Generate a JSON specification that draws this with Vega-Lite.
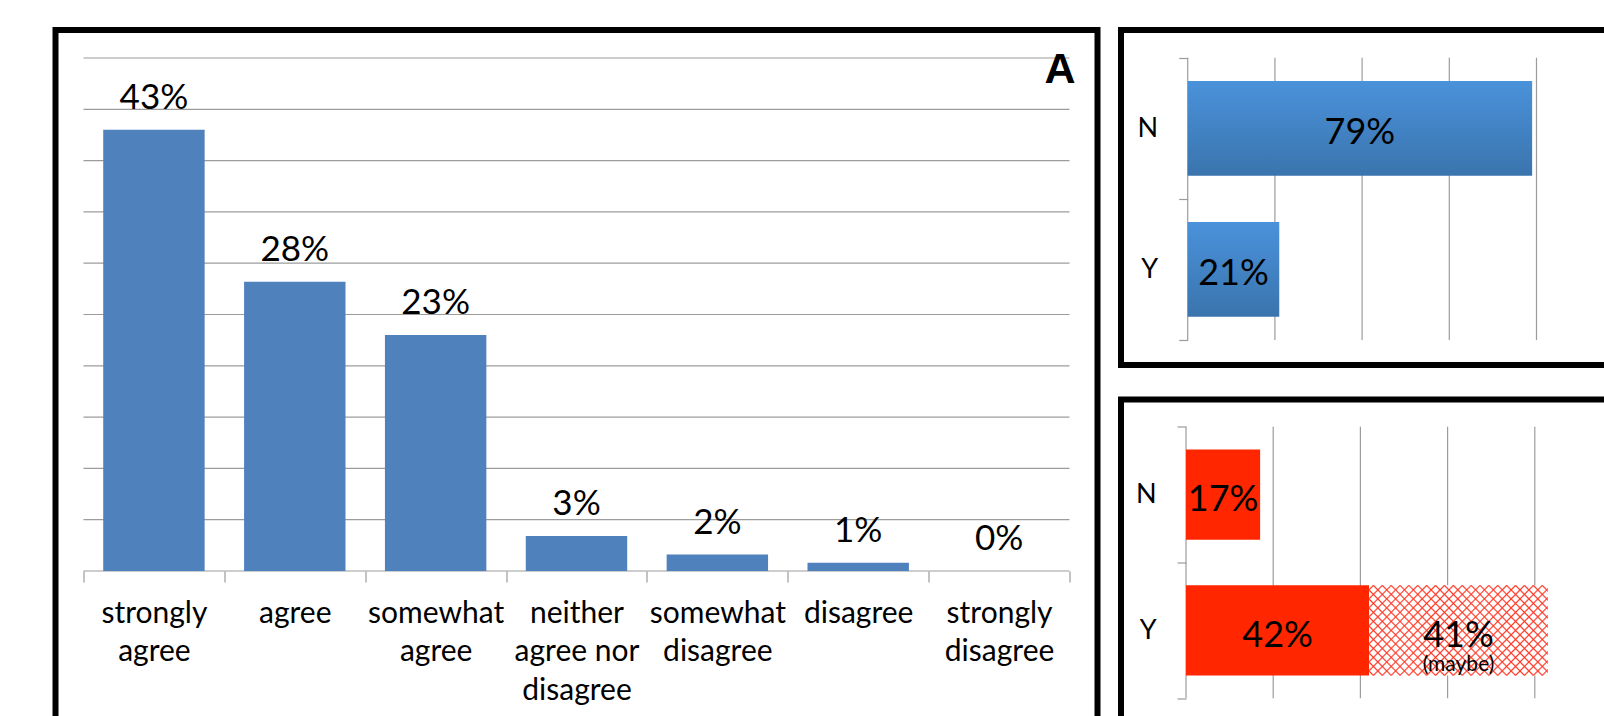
{
  "$schema": "https://vega.github.io/schema/vega-lite/v6.json",
  "background": "white",
  "padding": {"left": 52.5, "top": 27, "right": 0, "bottom": 0},
  "config": {
    "view": {"stroke": "black", "strokeWidth": 6},
    "font": "Lato",
    "text": {"font": "Lato", "color": "black"},
    "axis": {"labelFont": "Lato", "labelColor": "black"}
  },
  "spacing": 17.5,
  "hconcat": [
    {
      "width": 1042,
      "height": 690,
      "data": {"values": [
        {"response": "strongly agree", "value": 0.43},
        {"response": "agree", "value": 0.282},
        {"response": "somewhat agree", "value": 0.23},
        {"response": "neither agree nor disagree", "value": 0.034},
        {"response": "somewhat disagree", "value": 0.016},
        {"response": "disagree", "value": 0.008},
        {"response": "strongly disagree", "value": 0}
      ]},
      "resolve": {"scale": {"x": "independent"}},
      "layer": [
        {
          "data": {"values": [{"g": 0}, {"g": 0.05}, {"g": 0.1}, {"g": 0.15}, {"g": 0.2}, {"g": 0.25}, {"g": 0.3}, {"g": 0.35}, {"g": 0.4}, {"g": 0.45}, {"g": 0.5}]},
          "mark": {"type": "rule", "color": "#9C9C9C", "strokeWidth": 1.2},
          "encoding": {
            "y": {"field": "g", "type": "quantitative", "scale": {"domain": [-0.14522, 0.52729], "nice": false, "zero": false}, "axis": null},
            "x": {"datum": 0, "type": "quantitative", "scale": {"domain": [-0.0284, 1.0284], "nice": false, "zero": false}, "axis": null},
            "x2": {"datum": 1}
          }
        },
        {
          "mark": {"type": "bar", "color": "#4F81BD", "width": {"band": 0.72}},
          "encoding": {
            "x": {
              "field": "response", "type": "nominal", "sort": null,
              "scale": {"type": "band", "paddingInner": 0, "paddingOuter": 0.1988},
              "axis": {
                "title": null, "domain": false, "grid": false,
                "tickBand": "extent", "tickSize": 11, "tickColor": "#9C9C9C", "tickWidth": 1.2,
                "offset": -149, "labelAngle": 0,
                "labelFontSize": {"condition": {"test": "!isValid(datum.value)", "value": 0}, "value": 30},
                "labelLineHeight": 38.6,
                "labelPadding": 16, "labelBaseline": "top", "labelLimit": 400, "labelOverlap": false,
                "labelExpr": "!isValid(datum.value) ? '' : datum.value == 'neither agree nor disagree' ? ['neither', 'agree nor', 'disagree'] : split(datum.value, ' ')"
              }
            },
            "y": {"field": "value", "type": "quantitative", "scale": {"domain": [-0.14522, 0.52729], "nice": false, "zero": false}, "axis": null},
            "y2": {"datum": 0}
          }
        },
        {
          "mark": {"type": "text", "baseline": "alphabetic", "dy": -21, "fontSize": 35},
          "encoding": {
            "x": {"field": "response", "type": "nominal", "sort": null, "scale": {"type": "band", "paddingInner": 0, "paddingOuter": 0.1988}, "axis": null},
            "y": {"field": "value", "type": "quantitative", "scale": {"domain": [-0.14522, 0.52729], "nice": false, "zero": false}, "axis": null},
            "text": {"field": "value", "format": ".0%"}
          }
        },
        {
          "data": {"values": [{"t": "A"}]},
          "mark": {"type": "text", "font": "Liberation Sans", "fontWeight": "bold", "fontSize": 43, "align": "right", "baseline": "alphabetic", "dx": 6, "dy": 25},
          "encoding": {
            "x": {"datum": 1, "type": "quantitative", "scale": {"domain": [-0.0284, 1.0284], "nice": false, "zero": false}, "axis": null},
            "y": {"datum": 0.5, "type": "quantitative", "scale": {"domain": [-0.14522, 0.52729], "nice": false, "zero": false}, "axis": null},
            "text": {"field": "t"}
          }
        }
      ]
    },
    {
      "spacing": 28.5,
      "vconcat": [
        {
          "width": 489,
          "height": 335,
          "data": {"values": [
            {"answer": "N", "value": 0.79},
            {"answer": "Y", "value": 0.21}
          ]},
          "layer": [
            {
              "data": {"values": [{"g": 0}, {"g": 0.2}, {"g": 0.4}, {"g": 0.6}, {"g": 0.8}]},
              "mark": {"type": "rule", "color": "#9C9C9C", "strokeWidth": 1.2},
              "encoding": {
                "x": {"field": "g", "type": "quantitative", "scale": {"domain": [-0.153, 0.9686], "nice": false, "zero": false}, "axis": null},
                "y": {"datum": "N", "type": "nominal", "bandPosition": 0, "scale": {"type": "band", "paddingInner": 0, "paddingOuter": 0.1867, "align": 0.5256},
                  "axis": {"title": null, "offset": -66.7, "domain": false, "grid": false, "tickBand": "extent", "tickSize": 9, "tickColor": "#9C9C9C", "tickWidth": 1.2, "labelFontSize": {"condition": {"test": "!isValid(datum.value)", "value": 0}, "value": 27}, "labelPadding": 21, "labelExpr": "isValid(datum.value) ? datum.label : ''"}},
                "y2": {"datum": "Y", "bandPosition": 1}
              }
            },
            {
              "mark": {"type": "bar", "height": {"band": 0.671}, "fill": {"gradient": "linear", "x1": 0, "y1": 0, "x2": 0, "y2": 1, "stops": [{"offset": 0, "color": "#4A92DB"}, {"offset": 1, "color": "#3A74AD"}]}},
              "encoding": {
                "x": {"field": "value", "type": "quantitative", "scale": {"domain": [-0.153, 0.9686], "nice": false, "zero": false}, "axis": null},
                "x2": {"datum": 0},
                "y": {"field": "answer", "type": "nominal", "scale": {"type": "band", "paddingInner": 0, "paddingOuter": 0.1867, "align": 0.5256},
                  "axis": {"title": null, "offset": -66.7, "domain": false, "grid": false, "tickBand": "extent", "tickSize": 9, "tickColor": "#9C9C9C", "tickWidth": 1.2, "labelFontSize": {"condition": {"test": "!isValid(datum.value)", "value": 0}, "value": 27}, "labelPadding": 21, "labelExpr": "isValid(datum.value) ? datum.label : ''"}}
              }
            },
            {
              "mark": {"type": "text", "fontSize": 36, "baseline": "alphabetic", "dy": 16},
              "encoding": {
                "x": {"field": "value", "type": "quantitative", "stack": "zero", "bandPosition": 0.5, "scale": {"domain": [-0.153, 0.9686], "nice": false, "zero": false}, "axis": null},
                "y": {"field": "answer", "type": "nominal", "scale": {"type": "band", "paddingInner": 0, "paddingOuter": 0.1867, "align": 0.5256},
                  "axis": {"title": null, "offset": -66.7, "domain": false, "grid": false, "tickBand": "extent", "tickSize": 9, "tickColor": "#9C9C9C", "tickWidth": 1.2, "labelFontSize": {"condition": {"test": "!isValid(datum.value)", "value": 0}, "value": 27}, "labelPadding": 21, "labelExpr": "isValid(datum.value) ? datum.label : ''"}},
                "text": {"field": "value", "format": ".0%"}
              }
            }
          ]
        },
        {
          "width": 489,
          "height": 320,
          "data": {"values": [
            {"answer": "N", "kind": "yes", "value": 0.17},
            {"answer": "Y", "kind": "yes", "value": 0.42},
            {"answer": "Y", "kind": "maybe", "value": 0.41}
          ]},
          "layer": [
            {
              "data": {"values": [{"g": 0}, {"g": 0.2}, {"g": 0.4}, {"g": 0.6}, {"g": 0.8}]},
              "mark": {"type": "rule", "color": "#9C9C9C", "strokeWidth": 1.2},
              "encoding": {
                "x": {"field": "g", "type": "quantitative", "scale": {"domain": [-0.1491, 0.9725], "nice": false, "zero": false}, "axis": null},
                "y": {"datum": "N", "type": "nominal", "bandPosition": 0, "scale": {"type": "band", "paddingInner": 0, "paddingOuter": 0.1782, "align": 0.562},
                  "axis": {"title": null, "offset": -65, "domain": false, "grid": false, "tickBand": "extent", "tickSize": 9, "tickColor": "#9C9C9C", "tickWidth": 1.2, "labelFontSize": {"condition": {"test": "!isValid(datum.value)", "value": 0}, "value": 27}, "labelPadding": 21, "labelExpr": "isValid(datum.value) ? datum.label : ''"}},
                "y2": {"datum": "Y", "bandPosition": 1}
              }
            },
            {
              "mark": {"type": "bar", "height": {"band": 0.666}},
              "encoding": {
                "x": {"field": "value", "type": "quantitative", "stack": "zero", "scale": {"domain": [-0.1491, 0.9725], "nice": false, "zero": false}, "axis": null},
                "y": {"field": "answer", "type": "nominal", "scale": {"type": "band", "paddingInner": 0, "paddingOuter": 0.1782, "align": 0.562},
                  "axis": {"title": null, "offset": -65, "domain": false, "grid": false, "tickBand": "extent", "tickSize": 9, "tickColor": "#9C9C9C", "tickWidth": 1.2, "labelFontSize": {"condition": {"test": "!isValid(datum.value)", "value": 0}, "value": 27}, "labelPadding": 21, "labelExpr": "isValid(datum.value) ? datum.label : ''"}},
                "detail": {"field": "kind"},
                "order": {"field": "kind", "sort": "descending"},
                "fill": {"condition": {"test": "datum.kind == 'maybe'", "value": "white"}, "value": "#FF2600"}
              }
            },
            {
              "mark": {"type": "bar", "height": {"band": 0.666}, "fill": {"gradient": "linear", "x1": 0, "y1": 0, "x2": 1.2, "y2": 0.5993, "stops": [
                {"offset": 0.0106, "color": "rgba(255,50,30,0)"}, {"offset": 0.0166, "color": "#ff3a28"}, {"offset": 0.0226, "color": "rgba(255,50,30,0)"},
                {"offset": 0.0438, "color": "rgba(255,50,30,0)"}, {"offset": 0.0498, "color": "#ff3a28"}, {"offset": 0.0558, "color": "rgba(255,50,30,0)"},
                {"offset": 0.0769, "color": "rgba(255,50,30,0)"}, {"offset": 0.0829, "color": "#ff3a28"}, {"offset": 0.0889, "color": "rgba(255,50,30,0)"},
                {"offset": 0.1101, "color": "rgba(255,50,30,0)"}, {"offset": 0.1161, "color": "#ff3a28"}, {"offset": 0.1221, "color": "rgba(255,50,30,0)"},
                {"offset": 0.1432, "color": "rgba(255,50,30,0)"}, {"offset": 0.1492, "color": "#ff3a28"}, {"offset": 0.1552, "color": "rgba(255,50,30,0)"},
                {"offset": 0.1764, "color": "rgba(255,50,30,0)"}, {"offset": 0.1824, "color": "#ff3a28"}, {"offset": 0.1884, "color": "rgba(255,50,30,0)"},
                {"offset": 0.2096, "color": "rgba(255,50,30,0)"}, {"offset": 0.2156, "color": "#ff3a28"}, {"offset": 0.2216, "color": "rgba(255,50,30,0)"},
                {"offset": 0.2427, "color": "rgba(255,50,30,0)"}, {"offset": 0.2487, "color": "#ff3a28"}, {"offset": 0.2547, "color": "rgba(255,50,30,0)"},
                {"offset": 0.2759, "color": "rgba(255,50,30,0)"}, {"offset": 0.2819, "color": "#ff3a28"}, {"offset": 0.2879, "color": "rgba(255,50,30,0)"},
                {"offset": 0.3090, "color": "rgba(255,50,30,0)"}, {"offset": 0.3150, "color": "#ff3a28"}, {"offset": 0.3210, "color": "rgba(255,50,30,0)"},
                {"offset": 0.3422, "color": "rgba(255,50,30,0)"}, {"offset": 0.3482, "color": "#ff3a28"}, {"offset": 0.3542, "color": "rgba(255,50,30,0)"},
                {"offset": 0.3754, "color": "rgba(255,50,30,0)"}, {"offset": 0.3814, "color": "#ff3a28"}, {"offset": 0.3874, "color": "rgba(255,50,30,0)"},
                {"offset": 0.4085, "color": "rgba(255,50,30,0)"}, {"offset": 0.4145, "color": "#ff3a28"}, {"offset": 0.4205, "color": "rgba(255,50,30,0)"},
                {"offset": 0.4417, "color": "rgba(255,50,30,0)"}, {"offset": 0.4477, "color": "#ff3a28"}, {"offset": 0.4537, "color": "rgba(255,50,30,0)"},
                {"offset": 0.4748, "color": "rgba(255,50,30,0)"}, {"offset": 0.4808, "color": "#ff3a28"}, {"offset": 0.4868, "color": "rgba(255,50,30,0)"},
                {"offset": 0.5080, "color": "rgba(255,50,30,0)"}, {"offset": 0.5140, "color": "#ff3a28"}, {"offset": 0.5200, "color": "rgba(255,50,30,0)"},
                {"offset": 0.5412, "color": "rgba(255,50,30,0)"}, {"offset": 0.5472, "color": "#ff3a28"}, {"offset": 0.5532, "color": "rgba(255,50,30,0)"},
                {"offset": 0.5743, "color": "rgba(255,50,30,0)"}, {"offset": 0.5803, "color": "#ff3a28"}, {"offset": 0.5863, "color": "rgba(255,50,30,0)"},
                {"offset": 0.6075, "color": "rgba(255,50,30,0)"}, {"offset": 0.6135, "color": "#ff3a28"}, {"offset": 0.6195, "color": "rgba(255,50,30,0)"},
                {"offset": 0.6406, "color": "rgba(255,50,30,0)"}, {"offset": 0.6466, "color": "#ff3a28"}, {"offset": 0.6526, "color": "rgba(255,50,30,0)"},
                {"offset": 0.6738, "color": "rgba(255,50,30,0)"}, {"offset": 0.6798, "color": "#ff3a28"}, {"offset": 0.6858, "color": "rgba(255,50,30,0)"},
                {"offset": 0.7070, "color": "rgba(255,50,30,0)"}, {"offset": 0.7130, "color": "#ff3a28"}, {"offset": 0.7190, "color": "rgba(255,50,30,0)"},
                {"offset": 0.7401, "color": "rgba(255,50,30,0)"}, {"offset": 0.7461, "color": "#ff3a28"}, {"offset": 0.7521, "color": "rgba(255,50,30,0)"},
                {"offset": 0.7733, "color": "rgba(255,50,30,0)"}, {"offset": 0.7793, "color": "#ff3a28"}, {"offset": 0.7853, "color": "rgba(255,50,30,0)"},
                {"offset": 0.8064, "color": "rgba(255,50,30,0)"}, {"offset": 0.8124, "color": "#ff3a28"}, {"offset": 0.8184, "color": "rgba(255,50,30,0)"},
                {"offset": 0.8396, "color": "rgba(255,50,30,0)"}, {"offset": 0.8456, "color": "#ff3a28"}, {"offset": 0.8516, "color": "rgba(255,50,30,0)"},
                {"offset": 0.8728, "color": "rgba(255,50,30,0)"}, {"offset": 0.8788, "color": "#ff3a28"}, {"offset": 0.8848, "color": "rgba(255,50,30,0)"},
                {"offset": 0.9059, "color": "rgba(255,50,30,0)"}, {"offset": 0.9119, "color": "#ff3a28"}, {"offset": 0.9179, "color": "rgba(255,50,30,0)"},
                {"offset": 0.9391, "color": "rgba(255,50,30,0)"}, {"offset": 0.9451, "color": "#ff3a28"}, {"offset": 0.9511, "color": "rgba(255,50,30,0)"},
                {"offset": 0.9722, "color": "rgba(255,50,30,0)"}, {"offset": 0.9782, "color": "#ff3a28"}, {"offset": 0.9842, "color": "rgba(255,50,30,0)"}
              ]}},
              "encoding": {
                "x": {"field": "value", "type": "quantitative", "stack": "zero", "scale": {"domain": [-0.1491, 0.9725], "nice": false, "zero": false}, "axis": null},
                "y": {"field": "answer", "type": "nominal", "scale": {"type": "band", "paddingInner": 0, "paddingOuter": 0.1782, "align": 0.562},
                  "axis": {"title": null, "offset": -65, "domain": false, "grid": false, "tickBand": "extent", "tickSize": 9, "tickColor": "#9C9C9C", "tickWidth": 1.2, "labelFontSize": {"condition": {"test": "!isValid(datum.value)", "value": 0}, "value": 27}, "labelPadding": 21, "labelExpr": "isValid(datum.value) ? datum.label : ''"}},
                "detail": {"field": "kind"},
                "order": {"field": "kind", "sort": "descending"},
                "opacity": {"condition": {"test": "datum.kind == 'maybe'", "value": 1}, "value": 0}
              }
            },
            {
              "mark": {"type": "bar", "height": {"band": 0.666}, "fill": {"gradient": "linear", "x1": 0, "y1": 1, "x2": 1.2, "y2": 0.4007, "stops": [
                {"offset": 0.0106, "color": "rgba(255,50,30,0)"}, {"offset": 0.0166, "color": "#ff3a28"}, {"offset": 0.0226, "color": "rgba(255,50,30,0)"},
                {"offset": 0.0438, "color": "rgba(255,50,30,0)"}, {"offset": 0.0498, "color": "#ff3a28"}, {"offset": 0.0558, "color": "rgba(255,50,30,0)"},
                {"offset": 0.0769, "color": "rgba(255,50,30,0)"}, {"offset": 0.0829, "color": "#ff3a28"}, {"offset": 0.0889, "color": "rgba(255,50,30,0)"},
                {"offset": 0.1101, "color": "rgba(255,50,30,0)"}, {"offset": 0.1161, "color": "#ff3a28"}, {"offset": 0.1221, "color": "rgba(255,50,30,0)"},
                {"offset": 0.1432, "color": "rgba(255,50,30,0)"}, {"offset": 0.1492, "color": "#ff3a28"}, {"offset": 0.1552, "color": "rgba(255,50,30,0)"},
                {"offset": 0.1764, "color": "rgba(255,50,30,0)"}, {"offset": 0.1824, "color": "#ff3a28"}, {"offset": 0.1884, "color": "rgba(255,50,30,0)"},
                {"offset": 0.2096, "color": "rgba(255,50,30,0)"}, {"offset": 0.2156, "color": "#ff3a28"}, {"offset": 0.2216, "color": "rgba(255,50,30,0)"},
                {"offset": 0.2427, "color": "rgba(255,50,30,0)"}, {"offset": 0.2487, "color": "#ff3a28"}, {"offset": 0.2547, "color": "rgba(255,50,30,0)"},
                {"offset": 0.2759, "color": "rgba(255,50,30,0)"}, {"offset": 0.2819, "color": "#ff3a28"}, {"offset": 0.2879, "color": "rgba(255,50,30,0)"},
                {"offset": 0.3090, "color": "rgba(255,50,30,0)"}, {"offset": 0.3150, "color": "#ff3a28"}, {"offset": 0.3210, "color": "rgba(255,50,30,0)"},
                {"offset": 0.3422, "color": "rgba(255,50,30,0)"}, {"offset": 0.3482, "color": "#ff3a28"}, {"offset": 0.3542, "color": "rgba(255,50,30,0)"},
                {"offset": 0.3754, "color": "rgba(255,50,30,0)"}, {"offset": 0.3814, "color": "#ff3a28"}, {"offset": 0.3874, "color": "rgba(255,50,30,0)"},
                {"offset": 0.4085, "color": "rgba(255,50,30,0)"}, {"offset": 0.4145, "color": "#ff3a28"}, {"offset": 0.4205, "color": "rgba(255,50,30,0)"},
                {"offset": 0.4417, "color": "rgba(255,50,30,0)"}, {"offset": 0.4477, "color": "#ff3a28"}, {"offset": 0.4537, "color": "rgba(255,50,30,0)"},
                {"offset": 0.4748, "color": "rgba(255,50,30,0)"}, {"offset": 0.4808, "color": "#ff3a28"}, {"offset": 0.4868, "color": "rgba(255,50,30,0)"},
                {"offset": 0.5080, "color": "rgba(255,50,30,0)"}, {"offset": 0.5140, "color": "#ff3a28"}, {"offset": 0.5200, "color": "rgba(255,50,30,0)"},
                {"offset": 0.5412, "color": "rgba(255,50,30,0)"}, {"offset": 0.5472, "color": "#ff3a28"}, {"offset": 0.5532, "color": "rgba(255,50,30,0)"},
                {"offset": 0.5743, "color": "rgba(255,50,30,0)"}, {"offset": 0.5803, "color": "#ff3a28"}, {"offset": 0.5863, "color": "rgba(255,50,30,0)"},
                {"offset": 0.6075, "color": "rgba(255,50,30,0)"}, {"offset": 0.6135, "color": "#ff3a28"}, {"offset": 0.6195, "color": "rgba(255,50,30,0)"},
                {"offset": 0.6406, "color": "rgba(255,50,30,0)"}, {"offset": 0.6466, "color": "#ff3a28"}, {"offset": 0.6526, "color": "rgba(255,50,30,0)"},
                {"offset": 0.6738, "color": "rgba(255,50,30,0)"}, {"offset": 0.6798, "color": "#ff3a28"}, {"offset": 0.6858, "color": "rgba(255,50,30,0)"},
                {"offset": 0.7070, "color": "rgba(255,50,30,0)"}, {"offset": 0.7130, "color": "#ff3a28"}, {"offset": 0.7190, "color": "rgba(255,50,30,0)"},
                {"offset": 0.7401, "color": "rgba(255,50,30,0)"}, {"offset": 0.7461, "color": "#ff3a28"}, {"offset": 0.7521, "color": "rgba(255,50,30,0)"},
                {"offset": 0.7733, "color": "rgba(255,50,30,0)"}, {"offset": 0.7793, "color": "#ff3a28"}, {"offset": 0.7853, "color": "rgba(255,50,30,0)"},
                {"offset": 0.8064, "color": "rgba(255,50,30,0)"}, {"offset": 0.8124, "color": "#ff3a28"}, {"offset": 0.8184, "color": "rgba(255,50,30,0)"},
                {"offset": 0.8396, "color": "rgba(255,50,30,0)"}, {"offset": 0.8456, "color": "#ff3a28"}, {"offset": 0.8516, "color": "rgba(255,50,30,0)"},
                {"offset": 0.8728, "color": "rgba(255,50,30,0)"}, {"offset": 0.8788, "color": "#ff3a28"}, {"offset": 0.8848, "color": "rgba(255,50,30,0)"},
                {"offset": 0.9059, "color": "rgba(255,50,30,0)"}, {"offset": 0.9119, "color": "#ff3a28"}, {"offset": 0.9179, "color": "rgba(255,50,30,0)"},
                {"offset": 0.9391, "color": "rgba(255,50,30,0)"}, {"offset": 0.9451, "color": "#ff3a28"}, {"offset": 0.9511, "color": "rgba(255,50,30,0)"},
                {"offset": 0.9722, "color": "rgba(255,50,30,0)"}, {"offset": 0.9782, "color": "#ff3a28"}, {"offset": 0.9842, "color": "rgba(255,50,30,0)"}
              ]}},
              "encoding": {
                "x": {"field": "value", "type": "quantitative", "stack": "zero", "scale": {"domain": [-0.1491, 0.9725], "nice": false, "zero": false}, "axis": null},
                "y": {"field": "answer", "type": "nominal", "scale": {"type": "band", "paddingInner": 0, "paddingOuter": 0.1782, "align": 0.562},
                  "axis": {"title": null, "offset": -65, "domain": false, "grid": false, "tickBand": "extent", "tickSize": 9, "tickColor": "#9C9C9C", "tickWidth": 1.2, "labelFontSize": {"condition": {"test": "!isValid(datum.value)", "value": 0}, "value": 27}, "labelPadding": 21, "labelExpr": "isValid(datum.value) ? datum.label : ''"}},
                "detail": {"field": "kind"},
                "order": {"field": "kind", "sort": "descending"},
                "opacity": {"condition": {"test": "datum.kind == 'maybe'", "value": 1}, "value": 0}
              }
            },
            {
              "mark": {"type": "text", "fontSize": 36, "baseline": "alphabetic", "dy": 16.5},
              "encoding": {
                "x": {"field": "value", "type": "quantitative", "stack": "zero", "bandPosition": 0.5, "scale": {"domain": [-0.1491, 0.9725], "nice": false, "zero": false}, "axis": null},
                "y": {"field": "answer", "type": "nominal", "scale": {"type": "band", "paddingInner": 0, "paddingOuter": 0.1782, "align": 0.562},
                  "axis": {"title": null, "offset": -65, "domain": false, "grid": false, "tickBand": "extent", "tickSize": 9, "tickColor": "#9C9C9C", "tickWidth": 1.2, "labelFontSize": {"condition": {"test": "!isValid(datum.value)", "value": 0}, "value": 27}, "labelPadding": 21, "labelExpr": "isValid(datum.value) ? datum.label : ''"}},
                "detail": {"field": "kind"},
                "order": {"field": "kind", "sort": "descending"},
                "text": {"field": "value", "format": ".0%"}
              }
            },
            {
              "mark": {"type": "text", "fontSize": 21, "baseline": "alphabetic", "dy": 40.5},
              "encoding": {
                "x": {"field": "value", "type": "quantitative", "stack": "zero", "bandPosition": 0.5, "scale": {"domain": [-0.1491, 0.9725], "nice": false, "zero": false}, "axis": null},
                "y": {"field": "answer", "type": "nominal", "scale": {"type": "band", "paddingInner": 0, "paddingOuter": 0.1782, "align": 0.562},
                  "axis": {"title": null, "offset": -65, "domain": false, "grid": false, "tickBand": "extent", "tickSize": 9, "tickColor": "#9C9C9C", "tickWidth": 1.2, "labelFontSize": {"condition": {"test": "!isValid(datum.value)", "value": 0}, "value": 27}, "labelPadding": 21, "labelExpr": "isValid(datum.value) ? datum.label : ''"}},
                "detail": {"field": "kind"},
                "order": {"field": "kind", "sort": "descending"},
                "text": {"condition": {"test": "datum.kind == 'maybe'", "value": "(maybe)"}, "value": ""}
              }
            }
          ]
        }
      ]
    }
  ]
}
